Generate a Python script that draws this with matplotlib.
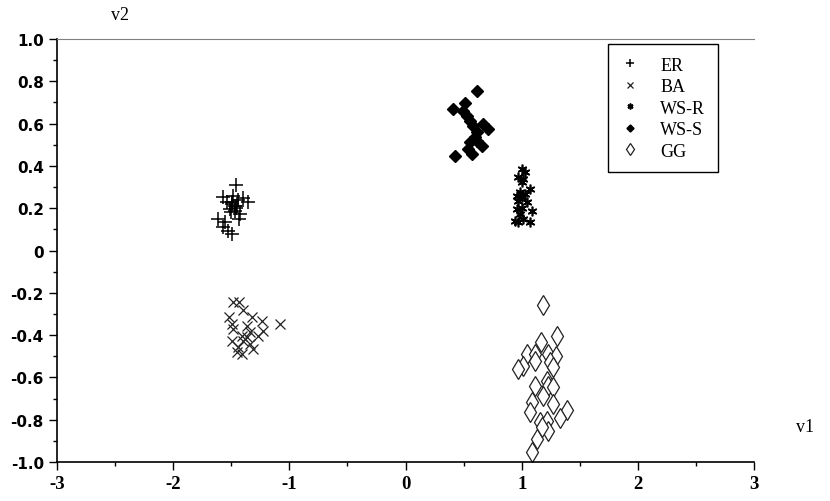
import matplotlib
matplotlib.use("Agg")
import matplotlib.pyplot as plt
from matplotlib.ticker import MultipleLocator, FixedLocator

# ER cluster
er_x = [-1.459, -1.573, -1.482, -1.401, -1.358, -1.539, -1.496, -1.453, -1.510, -1.467,
        -1.424, -1.611, -1.430, -1.553, -1.568, -1.496, -1.525, -1.47, -1.44, -1.50, -1.46, -1.49]
er_y = [0.310, 0.254, 0.259, 0.247, 0.231, 0.228, 0.220, 0.212, 0.196, 0.188,
        0.174, 0.151, 0.151, 0.133, 0.110, 0.078, 0.094, 0.21, 0.24, 0.18, 0.20, 0.23]

# BA cluster
ba_x = [-1.482, -1.430, -1.396, -1.516, -1.324, -1.238, -1.080, -1.496, -1.367, -1.482, -1.224,
        -1.338, -1.410, -1.267, -1.367, -1.496, -1.396, -1.338, -1.439, -1.310, -1.453, -1.410]
ba_y = [-0.245, -0.245, -0.281, -0.316, -0.316, -0.335, -0.348, -0.348, -0.356, -0.371, -0.379,
        -0.387, -0.403, -0.403, -0.410, -0.426, -0.426, -0.442, -0.458, -0.466, -0.481, -0.489]

# WS-R cluster
wsr_x = [1.000, 1.028, 0.971, 1.014, 1.000, 1.071, 0.985, 1.028, 0.957, 1.000,
         0.971, 1.043, 0.957, 1.000, 1.086, 0.985, 0.942, 1.014, 1.071, 0.971]
wsr_y = [0.385, 0.370, 0.346, 0.338, 0.322, 0.291, 0.275, 0.267, 0.259, 0.252,
         0.235, 0.228, 0.196, 0.203, 0.188, 0.173, 0.141, 0.149, 0.133, 0.133]

# WS-S cluster
wss_x = [0.613, 0.411, 0.512, 0.497, 0.527, 0.555, 0.583, 0.670, 0.713, 0.613,
         0.598, 0.555, 0.656, 0.540, 0.570, 0.426, 0.613]
wss_y = [0.756, 0.669, 0.697, 0.661, 0.637, 0.614, 0.590, 0.598, 0.574, 0.559,
         0.535, 0.512, 0.496, 0.480, 0.456, 0.448, 0.519]

# GG cluster
gg_x = [1.181, 1.306, 1.166, 1.043, 1.114, 1.229, 1.295, 1.014, 0.971, 1.114, 1.244, 1.272,
        1.215, 1.114, 1.229, 1.272, 1.086, 1.186, 1.272, 1.071, 1.387, 1.330, 1.157, 1.215,
        1.229, 1.129, 1.086, 1.172]
gg_y = [-0.258, -0.403, -0.431, -0.489, -0.489, -0.489, -0.497, -0.545, -0.560, -0.521, -0.529, -0.552,
        -0.616, -0.639, -0.639, -0.647, -0.718, -0.687, -0.726, -0.765, -0.753, -0.793, -0.812, -0.805,
        -0.852, -0.891, -0.954, -0.836]

xticks = [-3, -2, -1, 0, 1, 2, 3]
yticks = [-1.0, -0.8, -0.6, -0.4, -0.2, 0, 0.2, 0.4, 0.6, 0.8, 1.0]
ytick_labels = ["-1.0", "-0.8", "-0.6", "-0.4", "-0.2", "0", "0.2", "0.4", "0.6", "0.8", "1.0"]

fig = plt.figure(figsize=(8.3, 5.02), dpi=100)
ax = fig.add_axes([0.0687, 0.0777, 0.8398, 0.8426])

ax.plot(er_x, er_y, ls="none", marker="+", ms=10, mew=1.1, color="black", label="ER")
ax.plot(ba_x, ba_y, ls="none", marker="x", ms=7, mew=0.9, color="#222222", label="BA")
ax.plot(wsr_x, wsr_y, ls="none", marker=(6, 2, 0), ms=7, mew=1.2, color="black", label="WS-R")
ax.plot(wss_x, wss_y, ls="none", marker="D", ms=6, color="black", label="WS-S")
ax.plot(gg_x, gg_y, ls="none", marker="d", ms=10.5, mew=0.9, mfc="white", mec="#222222", label="GG")

ax.set_xlim(-3, 3)
ax.set_ylim(-1, 1)
ax.xaxis.set_major_locator(FixedLocator(xticks))
ax.xaxis.set_minor_locator(MultipleLocator(0.5))
ax.yaxis.set_major_locator(FixedLocator(yticks))
ax.yaxis.set_minor_locator(MultipleLocator(0.1))
ax.set_xticklabels([str(t) for t in xticks], family="Liberation Serif", weight="bold", fontsize=13.5)
ax.set_yticklabels(ytick_labels, family="DejaVu Sans", weight="bold", fontsize=11)
ax.tick_params(which="major", direction="out", length=6, width=1)
ax.tick_params(which="minor", direction="out", length=3, width=1)
ax.tick_params(top=False, right=False)

ax.spines["top"].set_color("#808080")
ax.spines["right"].set_visible(False)
ax.spines["left"].set_linewidth(1.2)
ax.spines["bottom"].set_linewidth(1.2)

fig.text(120 / 830, 1 - 15 / 502, "v2", family="Liberation Serif", fontsize=13, ha="center", va="center")
fig.text(805 / 830, 1 - 428 / 502, "v1", family="Liberation Serif", fontsize=13, ha="center", va="center")

leg = ax.legend(loc="upper right", bbox_to_anchor=((718 - 57) / 697, (463 - 45) / 423),
                borderaxespad=0, prop={"family": "Liberation Serif", "size": 13}, fancybox=False,
                edgecolor="black", framealpha=1, markerscale=0.6, handlelength=1.0,
                borderpad=0.7, labelspacing=0.25, handletextpad=1.2)
leg.get_frame().set_linewidth(1.0)

fig.savefig("out.png", dpi=100)
